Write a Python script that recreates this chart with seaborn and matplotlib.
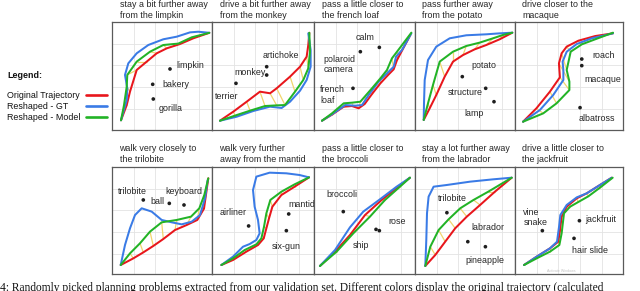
import numpy as np
import pandas as pd
import matplotlib
matplotlib.use("Agg")
import matplotlib.pyplot as plt
from matplotlib.lines import Line2D
import seaborn as sns

sns.set_theme(style="white")
plt.rcParams["font.family"] = ["Liberation Sans", "DejaVu Sans"]

# ---------------- data (normalised panel coordinates, 0..1) ----------------
TITLES = [
    "stay a bit further away\nfrom the limpkin",
    "drive a bit further away\nfrom the monkey",
    "pass a little closer to\nthe french loaf",
    "pass further away\nfrom the potato",
    "drive closer to the\nmacaque",
    "walk very closely to\nthe trilobite",
    "walk very further\naway from the mantid",
    "pass a little closer to\nthe broccoli",
    "stay a lot further away\nfrom the labrador",
    "drive a little closer to\nthe jackfruit",
]

SERIES = ["Original Trajectory", "Reshaped - GT", "Reshaped - Model"]

P1_ORIG = [(0.09, 0.09), (0.147, 0.23), (0.18, 0.355), (0.247, 0.556), (0.347, 0.633), (0.447, 0.71),
           (0.547, 0.756), (0.68, 0.796), (0.813, 0.849), (0.973, 0.90)]
P1_MODEL = [(0.09, 0.09), (0.12, 0.23), (0.147, 0.40), (0.153, 0.51), (0.247, 0.633), (0.38, 0.725),
            (0.513, 0.787), (0.663, 0.80), (0.797, 0.858), (0.973, 0.90)]
P1_GT = [(0.09, 0.09), (0.147, 0.278), (0.153, 0.386), (0.13, 0.51), (0.163, 0.617), (0.247, 0.71),
         (0.363, 0.787), (0.513, 0.84), (0.647, 0.864), (0.78, 0.904), (0.863, 0.91), (0.973, 0.90)]
P1_OBJ = [("limpkin", 0.58, 0.565), ("bakery", 0.407, 0.423), ("gorilla", 0.413, 0.287)]
P1_LAB = [(0.647, 0.596), (0.507, 0.423), (0.47, 0.20)]

P2_ORIG = [(0.078, 0.086), (0.209, 0.17), (0.34, 0.262), (0.47, 0.355), (0.569, 0.34), (0.634, 0.386),
           (0.765, 0.494), (0.863, 0.586), (0.928, 0.679), (0.944, 0.787), (0.954, 0.90)]
P2_MODEL = [(0.078, 0.086), (0.225, 0.133), (0.373, 0.179), (0.52, 0.222), (0.634, 0.228), (0.716, 0.231),
            (0.814, 0.355), (0.895, 0.463), (0.944, 0.571), (0.961, 0.725), (0.954, 0.90)]
P2_GT = [(0.078, 0.086), (0.242, 0.123), (0.405, 0.176), (0.569, 0.216), (0.683, 0.204), (0.765, 0.262),
         (0.863, 0.364), (0.928, 0.463), (0.967, 0.586), (0.967, 0.741), (0.944, 0.895)]
P2_OBJ = [("artichoke", 0.536, 0.586), ("monkey", 0.536, 0.509), ("terrier", 0.235, 0.432)]
P2_LAB = [(0.493, 0.694), (0.216, 0.53), (0.03, 0.31)]

P3_ORIG = [(0.079, 0.086), (0.178, 0.142), (0.294, 0.216), (0.376, 0.222), (0.442, 0.201), (0.502, 0.241),
           (0.574, 0.333), (0.657, 0.432), (0.733, 0.509), (0.789, 0.562), (0.822, 0.648), (0.954, 0.88)]
P3_MODEL = [(0.079, 0.086), (0.178, 0.154), (0.294, 0.247), (0.376, 0.253), (0.459, 0.262), (0.508, 0.315),
            (0.574, 0.386), (0.657, 0.478), (0.723, 0.556), (0.772, 0.664), (0.822, 0.725), (0.964, 0.901)]
P3_GT = [(0.079, 0.086), (0.178, 0.145), (0.31, 0.231), (0.409, 0.225), (0.475, 0.231), (0.541, 0.324),
         (0.64, 0.448), (0.723, 0.525), (0.789, 0.586), (0.812, 0.679), (0.871, 0.741), (0.964, 0.895)]
P3_OBJ = [("calm", 0.647, 0.765), ("polaroid\ncamera", 0.459, 0.725), ("french\nloaf", 0.386, 0.386)]
P3_LAB = [(0.409, 0.858), (0.096, 0.605), (0.063, 0.324)]

P4_ORIG = [(0.087, 0.093), (0.147, 0.201), (0.213, 0.324), (0.297, 0.494), (0.38, 0.633), (0.48, 0.694),
           (0.597, 0.747), (0.713, 0.787), (0.847, 0.84), (0.973, 0.901)]
P4_MODEL = [(0.087, 0.093), (0.13, 0.247), (0.18, 0.417), (0.247, 0.633), (0.38, 0.725), (0.513, 0.778),
            (0.647, 0.809), (0.78, 0.849), (0.88, 0.88), (0.973, 0.901)]
P4_GT = [(0.087, 0.093), (0.09, 0.247), (0.097, 0.463), (0.13, 0.648), (0.213, 0.772), (0.347, 0.849),
         (0.513, 0.877), (0.713, 0.886), (0.847, 0.895), (0.973, 0.901)]
P4_OBJ = [("potato", 0.473, 0.494), ("structure", 0.707, 0.386), ("lamp", 0.79, 0.262)]
P4_LAB = [(0.563, 0.596), (0.33, 0.346), (0.497, 0.154)]

P5_ORIG = [(0.075, 0.077), (0.199, 0.201), (0.324, 0.355), (0.417, 0.488), (0.408, 0.617), (0.433, 0.71),
           (0.48, 0.772), (0.589, 0.827), (0.745, 0.87), (0.91, 0.895)]
P5_MODEL = [(0.075, 0.077), (0.262, 0.154), (0.386, 0.247), (0.505, 0.37), (0.505, 0.448), (0.48, 0.556),
            (0.517, 0.725), (0.62, 0.793), (0.745, 0.84), (0.91, 0.901)]
P5_GT = [(0.075, 0.077), (0.231, 0.185), (0.355, 0.324), (0.449, 0.463), (0.449, 0.556), (0.442, 0.633),
         (0.48, 0.725), (0.573, 0.796), (0.713, 0.849), (0.91, 0.895)]
P5_OBJ = [("roach", 0.62, 0.657), ("macaque", 0.62, 0.596), ("albatross", 0.604, 0.207)]
P5_LAB = [(0.72, 0.694), (0.645, 0.463), (0.595, 0.102)]

P6_ORIG = [(0.087, 0.084), (0.213, 0.146), (0.313, 0.202), (0.413, 0.262), (0.513, 0.327), (0.63, 0.411),
           (0.747, 0.458), (0.853, 0.505), (0.92, 0.611), (0.963, 0.894)]
P6_MODEL = [(0.087, 0.084), (0.18, 0.193), (0.28, 0.287), (0.38, 0.396), (0.497, 0.483), (0.647, 0.505),
            (0.79, 0.536), (0.873, 0.614), (0.923, 0.738), (0.963, 0.894)]
P6_GT = [(0.087, 0.084), (0.13, 0.271), (0.18, 0.427), (0.23, 0.551), (0.297, 0.614), (0.397, 0.583),
         (0.497, 0.505), (0.597, 0.483), (0.697, 0.464), (0.797, 0.489), (0.88, 0.551), (0.93, 0.707),
         (0.957, 0.879)]
P6_OBJ = [("trilobite", 0.313, 0.692), ("ball", 0.573, 0.66), ("keyboard", 0.72, 0.645)]
P6_LAB = [(0.063, 0.77), (0.387, 0.682), (0.537, 0.77)]

P7_ORIG = [(0.092, 0.084), (0.206, 0.131), (0.337, 0.209), (0.451, 0.271), (0.507, 0.333), (0.533, 0.427),
           (0.559, 0.520), (0.592, 0.629), (0.68, 0.738), (0.81, 0.816), (0.951, 0.903)]
P7_MODEL = [(0.092, 0.084), (0.206, 0.146), (0.32, 0.224), (0.435, 0.277), (0.484, 0.333), (0.51, 0.442),
            (0.533, 0.567), (0.572, 0.692), (0.68, 0.769), (0.81, 0.838), (0.951, 0.903)]
P7_GT = [(0.092, 0.084), (0.206, 0.162), (0.304, 0.255), (0.369, 0.28), (0.435, 0.318), (0.467, 0.38),
         (0.451, 0.505), (0.418, 0.629), (0.402, 0.785), (0.435, 0.91), (0.565, 0.947), (0.729, 0.941),
         (0.859, 0.925), (0.951, 0.903)]
P7_OBJ = [("airliner", 0.359, 0.449), ("mantid", 0.752, 0.561), ("six-gun", 0.729, 0.405)]
P7_LAB = [(0.075, 0.573), (0.745, 0.651), (0.582, 0.255)]

P8_ORIG = [(0.059, 0.075), (0.208, 0.209), (0.356, 0.364), (0.505, 0.551), (0.67, 0.692), (0.835, 0.816),
           (0.95, 0.9)]
P8_MODEL = [(0.059, 0.075), (0.224, 0.209), (0.389, 0.38), (0.554, 0.536), (0.703, 0.692), (0.851, 0.816),
            (0.95, 0.9)]
P8_GT = [(0.059, 0.075), (0.208, 0.224), (0.356, 0.436), (0.488, 0.583), (0.653, 0.698), (0.818, 0.816),
         (0.95, 0.9)]
P8_OBJ = [("broccoli", 0.29, 0.583), ("rose", 0.647, 0.405), ("ship", 0.614, 0.417)]
P8_LAB = [(0.125, 0.745), (0.736, 0.489), (0.383, 0.262)]

P9_ORIG = [(0.103, 0.075), (0.203, 0.178), (0.302, 0.302), (0.402, 0.427), (0.518, 0.536), (0.651, 0.645),
           (0.8, 0.77), (0.967, 0.9)]
P9_MODEL = [(0.103, 0.075), (0.153, 0.255), (0.236, 0.411), (0.336, 0.511), (0.452, 0.614), (0.585, 0.692),
            (0.734, 0.77), (0.967, 0.9)]
P9_GT = [(0.103, 0.075), (0.113, 0.318), (0.12, 0.567), (0.136, 0.723), (0.186, 0.816), (0.319, 0.832),
         (0.551, 0.863), (0.784, 0.885), (0.967, 0.9)]
P9_OBJ = [("trilobite", 0.319, 0.573), ("labrador", 0.528, 0.302), ("pineapple", 0.704, 0.255)]
P9_LAB = [(0.226, 0.707), (0.561, 0.433), (0.502, 0.125)]

P10_ORIG = [(0.084, 0.084), (0.201, 0.162), (0.325, 0.24), (0.402, 0.302), (0.418, 0.411), (0.433, 0.536),
            (0.48, 0.629), (0.573, 0.707), (0.666, 0.754), (0.789, 0.832), (0.898, 0.9)]
P10_MODEL = [(0.084, 0.084), (0.201, 0.146), (0.325, 0.209), (0.412, 0.271), (0.433, 0.38), (0.455, 0.567),
             (0.511, 0.629), (0.588, 0.673), (0.681, 0.726), (0.789, 0.807), (0.907, 0.9)]
P10_GT = [(0.084, 0.084), (0.201, 0.162), (0.325, 0.24), (0.39, 0.302), (0.409, 0.442), (0.421, 0.551),
          (0.48, 0.645), (0.573, 0.716), (0.666, 0.754), (0.789, 0.832), (0.898, 0.9)]
P10_OBJ = [("vine\nsnake", 0.254, 0.405), ("jackfruit", 0.598, 0.498), ("hair slide", 0.548, 0.333)]
P10_LAB = [(0.077, 0.526), (0.656, 0.514), (0.526, 0.224)]

PANELS = [
    (P1_ORIG, P1_GT, P1_MODEL, P1_OBJ, P1_LAB),
    (P2_ORIG, P2_GT, P2_MODEL, P2_OBJ, P2_LAB),
    (P3_ORIG, P3_GT, P3_MODEL, P3_OBJ, P3_LAB),
    (P4_ORIG, P4_GT, P4_MODEL, P4_OBJ, P4_LAB),
    (P5_ORIG, P5_GT, P5_MODEL, P5_OBJ, P5_LAB),
    (P6_ORIG, P6_GT, P6_MODEL, P6_OBJ, P6_LAB),
    (P7_ORIG, P7_GT, P7_MODEL, P7_OBJ, P7_LAB),
    (P8_ORIG, P8_GT, P8_MODEL, P8_OBJ, P8_LAB),
    (P9_ORIG, P9_GT, P9_MODEL, P9_OBJ, P9_LAB),
    (P10_ORIG, P10_GT, P10_MODEL, P10_OBJ, P10_LAB),
]

CAPTION = ("4: Randomly picked planning problems extracted from our validation set. Different colors "
           "display the original trajectory (calculated")

# ---------------- layout / style ----------------
W, H = 640, 291
PANEL_X = [(112, 212), (212, 314), (314, 415), (415, 515), (515, 622.7)]
ROW_Y = [(22, 130), (167, 274)]
TITLE_Y = [9.8, 153.8]
GRID_PX = 21.7
PALETTE = {"Original Trajectory": "#e8161c", "Reshaped - GT": "#3a7be6", "Reshaped - Model": "#22b326"}
YELLOW = "#f1d56e"
TXT = "#262626"
FS = 6.4

fig = plt.figure(figsize=(W / 100, H / 100), dpi=100)
fig.patch.set_facecolor("white")

for k, (orig, gt, model, objs, labs) in enumerate(PANELS):
    r, c = divmod(k, 5)
    x0, x1 = PANEL_X[c]
    y0, y1 = ROW_Y[r]
    w, h = x1 - x0, y1 - y0
    ax = fig.add_axes([x0 / W, 1 - y1 / H, w / W, h / H])
    ax.set_facecolor("white")

    rows = []
    for name, pts in zip(SERIES, (orig, gt, model)):
        for i, (x, y) in enumerate(pts):
            rows.append({"series": name, "step": i, "x": x, "y": y})
    df = pd.DataFrame(rows)

    # correspondence lines between original and model trajectories
    for i in range(1, min(len(orig), len(model)) - 1):
        ax.plot([orig[i][0], model[i][0]], [orig[i][1], model[i][1]], color=YELLOW, lw=0.9,
                solid_capstyle="butt", zorder=2)

    sns.lineplot(data=df, x="x", y="y", hue="series", hue_order=SERIES, palette=PALETTE,
                 sort=False, estimator=None, legend=False, ax=ax, lw=1.45, zorder=3)

    odf = pd.DataFrame(objs, columns=["name", "x", "y"])
    sns.scatterplot(data=odf, x="x", y="y", color="#1e1e1e", s=7, edgecolor="none", ax=ax, zorder=4)
    for (name, _, _), (lx, ly) in zip(objs, labs):
        ax.text(lx, ly, name, fontsize=FS, color=TXT, ha="left", va="center", zorder=5,
                linespacing=1.15)

    ax.set_xlim(0, 1)
    ax.set_ylim(0, 1)
    ax.set_xticks(np.arange(GRID_PX, w, GRID_PX) / w)
    ax.set_yticks(1 - np.arange(GRID_PX, h, GRID_PX) / h)
    ax.grid(True, color="#e3e3e3", lw=0.6)
    ax.tick_params(length=0, labelbottom=False, labelleft=False)
    ax.set_xlabel("")
    ax.set_ylabel("")
    for sp in ax.spines.values():
        sp.set_visible(True)
        sp.set_color("#5a5a5a")
        sp.set_linewidth(0.9)

    fig.text((x0 + 7.5) / W, 1 - TITLE_Y[r] / H, TITLES[k], fontsize=FS, color=TXT,
             ha="left", va="center", linespacing=1.2)

# watermark in last panel
fig.text(547 / W, 1 - 271.5 / H, "Activate Windows", fontsize=2.6, color="#c4c4c4", ha="left", va="center")

# legend
fig.text(7 / W, 1 - 75 / H, "Legend:", fontsize=FS, fontweight="bold", color="#111111", ha="left", va="center")
for name, yy in zip(SERIES, (96, 106.7, 117.3)):
    fig.text(7 / W, 1 - yy / H, name, fontsize=FS, color="#111111", ha="left", va="center")
    fig.add_artist(Line2D([86 / W, 107 / W], [1 - (yy - 0.5) / H] * 2, color=PALETTE[name], lw=1.9,
                          transform=fig.transFigure))

# caption (cut by the bottom edge as in the source)
fig.text(0.5 / W, 1 - 291.5 / H, CAPTION, fontsize=8.3, family="Liberation Serif", color="#111111",
         ha="left", va="baseline")

fig.savefig("out.png", dpi=100, facecolor="white")
